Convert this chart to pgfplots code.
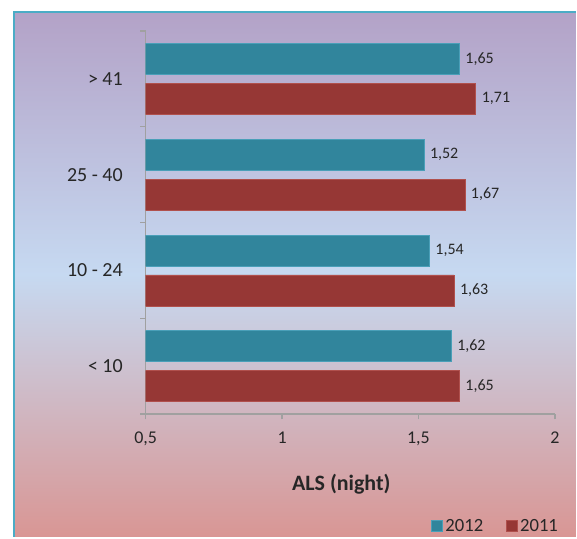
\documentclass[border=0pt]{standalone}
\usepackage{pgfplots}
\pgfplotsset{compat=1.18}
\usepackage{fontspec}
\setmainfont{Carlito}

\definecolor{barTeal}{HTML}{31859C}
\definecolor{tealEdge}{HTML}{4A9FB8}
\definecolor{barRed}{HTML}{963735}
\definecolor{redEdge}{HTML}{B0504D}
\definecolor{bgTop}{HTML}{B3A2C7}
\definecolor{bgMid}{HTML}{C6D9F1}
\definecolor{bgBot}{HTML}{D99694}
\definecolor{frameBlue}{HTML}{4BACC6}
\definecolor{axisGray}{HTML}{A0A0A0}
\definecolor{textDark}{HTML}{262626}

\pgfplotsset{
  sqlegend/.style={legend image code/.code={\fill[##1] (0pt,-4.1pt) rectangle (8.25pt,4.1pt);}},
}

\begin{document}
\begin{tikzpicture}
% page and gradient panel with its frame
\fill[white] (0,0) rectangle (432.75pt,403.5pt);
\shade[top color=bgTop, bottom color=bgBot, middle color=bgMid] (10.5pt,0) rectangle (432.75pt,394.5pt);
\draw[frameBlue, line width=1.8pt] (10.5pt,0) -- (10.5pt,394.5pt) -- (432.75pt,394.5pt);
\useasboundingbox (0,0) rectangle (432.75pt,403.5pt);

\begin{axis}[
  at={(109.5pt,92.25pt)}, anchor=south west,
  scale only axis, width=307.5pt, height=288pt,
  xbar, bar width=23.25pt,
  xmin=0.5, xmax=2, ymin=-0.5, ymax=3.5,
  axis x line*=bottom, axis y line*=left,
  axis line style={axisGray, line width=1.1pt, -},
  xtick={0.5,1,1.5,2},
  ytick={0,1,2,3},
  yticklabels={< 10, 10 - 24, 25 - 40, > 41},
  minor ytick={-0.5,0.5,1.5,2.5,3.5},
  major y tick style={draw=none},
  tick align=outside,
  major tick length=4pt, minor tick length=4pt,
  tick style={axisGray, line width=1.1pt},
  /pgf/number format/assume math mode=true,
  /pgf/number format/use comma,
  x tick label style={font=\fontsize{13.5}{16}\selectfont, text=textDark, yshift=-6pt},
  y tick label style={font=\fontsize{15}{18}\selectfont, text=textDark, xshift=-9.75pt},
  xlabel={ALS (night)},
  xlabel style={font=\bfseries\fontsize{16.5}{20}\selectfont, text=textDark,
                at={(axis description cs:0.478,-0.182)}, anchor=center},
  point meta=x,
  nodes near coords={\pgfmathprintnumber[fixed,fixed zerofill,precision=2,use comma]{\pgfplotspointmeta}},
  nodes near coords style={font=\fontsize{12}{14}\selectfont, text=textDark, anchor=west, xshift=1pt},
  legend style={at={(axis description cs:1.0244,-0.292)}, anchor=east, draw=none, fill=none,
                font=\fontsize{14}{16}\selectfont, text=textDark,
                /tikz/every even column/.append style={column sep=15pt}},
  legend columns=2,
]
\addplot[fill=barTeal, draw=tealEdge, line width=0.5pt, bar shift=15pt, sqlegend]
  coordinates {(1.62,0) (1.54,1) (1.52,2) (1.65,3)};
\addplot[fill=barRed, draw=redEdge, line width=0.5pt, bar shift=-15pt, sqlegend]
  coordinates {(1.65,0) (1.63,1) (1.67,2) (1.71,3)};
\legend{2012, 2011}
\end{axis}
\end{tikzpicture}
\end{document}
